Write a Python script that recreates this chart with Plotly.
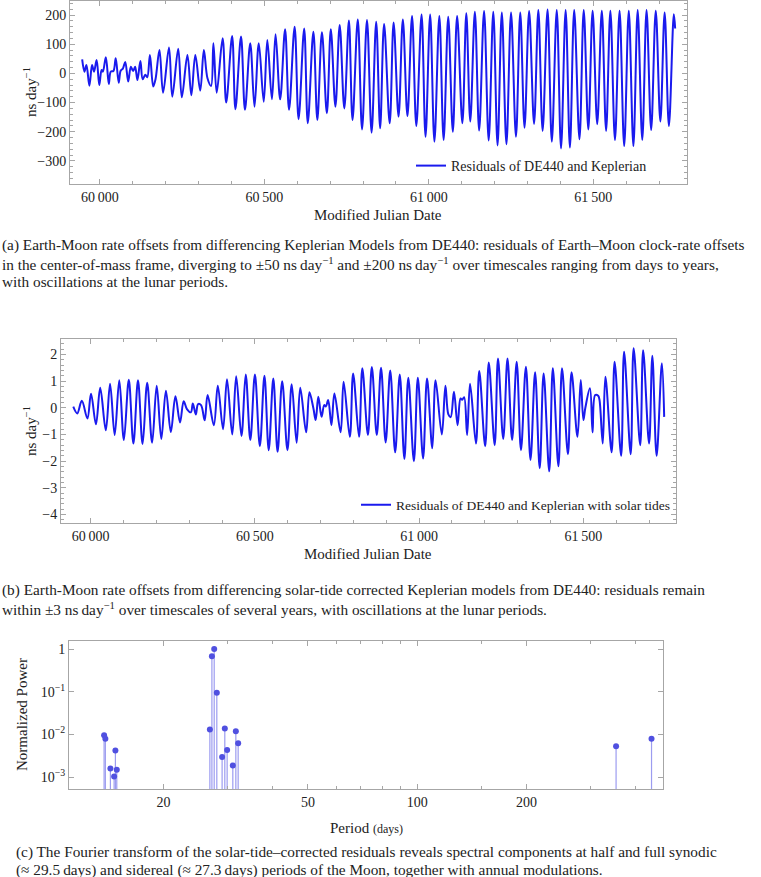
import plotly.graph_objects as go

W, H = 761, 877

# ---------------- Data ----------------
# Panel (a): residuals DE440 - Keplerian (extrema)
a_mjd = [59946, 59953, 59959, 59968, 59976, 59982, 59990, 59998, 60005, 60009, 60018, 60027,
         60033, 60041, 60048, 60057, 60063, 60070, 60077, 60086, 60094, 60101, 60107, 60114,
         60123, 60130, 60138, 60144, 60152, 60162, 60169, 60181, 60192, 60210, 60220, 60238,
         60249, 60266, 60278, 60290, 60305, 60316, 60327, 60338, 60345, 60355, 60373, 60384,
         60402, 60412, 60429, 60441, 60457, 60470, 60483, 60498, 60509, 60523, 60534, 60548,
         60563, 60575, 60592, 60604, 60621, 60632, 60649, 60661, 60675, 60690, 60702, 60716,
         60729, 60743, 60757, 60768, 60784, 60797, 60812, 60826, 60840, 60852, 60864, 60881,
         60893, 60908, 60921, 60935, 60949, 60962, 60978, 60990, 61004, 61017, 61032, 61045,
         61059, 61073, 61086, 61102, 61114, 61126, 61140, 61153, 61168, 61182, 61196, 61209,
         61222, 61236, 61250, 61265, 61278, 61291, 61305, 61320, 61333, 61346, 61361, 61374,
         61389, 61402, 61416, 61429, 61442, 61458, 61471, 61485, 61498, 61512, 61526, 61539,
         61552, 61566, 61580, 61594, 61608, 61622, 61635, 61649, 61662, 61676, 61690, 61704,
         61717, 61730, 61745, 61749]
a_val = [48, 6, 29, -42, 29, 6, 46, -40, 12, 6, 55, -36,
         6, 8, 52, -32, 9, 17, 39, -28, 23, 8, 23, -23,
         42, -20, -5, -13, 63, -45, -20, 80, -66, 89, -80, 84,
         -82, 63, -75, 63, -59, 80, -17, -43, 103, -66, 120, -100,
         128, -123, 126, -125, 103, -114, 103, -97, 114, -89, 134, -89,
         151, -125, 160, -157, 154, -171, 143, -160, 141, -137, 151, -114,
         166, -120, 181, -160, 185, -192, 183, -203, 177, -188, 169, -171,
         174, -148, 185, -146, 197, -180, 202, -217, 202, -234, 197, -228,
         194, -200, 197, -171, 206, -165, 211, -196, 214, -230, 211, -247,
         209, -243, 209, -217, 209, -186, 214, -173, 217, -197, 219, -234,
         217, -257, 217, -254, 217, -226, 217, -192, 215, -174, 215, -197,
         215, -228, 215, -249, 215, -249, 217, -228, 217, -194, 215, -165,
         209, -180, 203, 154]

# Panel (b): residuals with solar tides (extrema)
b_mjd = [59947, 59959, 59973, 59990, 60001, 60016, 60029, 60046, 60059, 60073, 60087, 60101,
         60116, 60130, 60144, 60158, 60172, 60187, 60201, 60215, 60229, 60244, 60258, 60272,
         60283, 60293, 60305, 60311, 60320, 60327, 60336, 60347, 60356, 60375, 60387, 60403,
         60415, 60431, 60443, 60459, 60472, 60486, 60500, 60515, 60529, 60542, 60556, 60569,
         60583, 60599, 60612, 60627, 60638, 60656, 60666, 60678, 60685, 60693, 60703, 60711,
         60716, 60723, 60733, 60742, 60761, 60770, 60789, 60799, 60817, 60827, 60844, 60856,
         60871, 60884, 60898, 60912, 60927, 60941, 60955, 60967, 60984, 60996, 61012, 61024,
         61040, 61050, 61069, 61080, 61089, 61096, 61106, 61117, 61126, 61131, 61137, 61146,
         61155, 61173, 61183, 61201, 61212, 61230, 61240, 61256, 61269, 61283, 61297, 61310,
         61325, 61339, 61353, 61367, 61379, 61396, 61407, 61424, 61435, 61453, 61464, 61482,
         61492, 61500, 61506, 61520, 61528, 61536, 61545, 61549, 61559, 61567, 61586, 61595,
         61615, 61624, 61644, 61653, 61673, 61682, 61700, 61710, 61723, 61739, 61746]
b_val = [0.04, -0.21, 0.26, -0.40, 0.53, -0.62, 0.75, -0.84, 0.90, -1.02, 1.03, -1.21,
         1.05, -1.34, 1.03, -1.36, 0.94, -1.31, 0.83, -1.17, 0.64, -0.91, 0.43, -0.55,
         0.25, -0.05, -0.17, 0.16, -0.25, 0.14, 0.10, -0.47, 0.48, -0.65, 0.83, -0.80,
         1.07, -1.00, 1.18, -1.06, 1.25, -1.21, 1.25, -1.44, 1.20, -1.59, 1.10, -1.65,
         1.00, -1.59, 0.88, -1.31, 0.75, -0.92, 0.58, -0.02, -0.46, 0.41, -0.34, 0.10,
         0.05, 0.29, -0.65, 0.54, -0.92, 0.98, -1.09, 1.29, -1.09, 1.48, -1.02, 1.53,
         -1.02, 1.50, -1.30, 1.40, -1.67, 1.25, -1.92, 1.13, -2.00, 1.13, -1.90, 1.10,
         -1.52, 1.03, -1.00, 0.83, -0.25, -0.35, 0.60, -0.65, 0.35, 0.30, 0.40, -1.02,
         0.90, -1.34, 1.38, -1.44, 1.70, -1.40, 1.85, -1.17, 1.85, -1.21, 1.73, -1.59,
         1.54, -1.96, 1.33, -2.27, 1.29, -2.38, 1.48, -2.19, 1.48, -1.74, 1.33, -1.09,
         1.04, -0.46, 0.00, 0.73, -0.92, 0.48, 0.45, 0.30, -1.34, 1.16, -1.67, 1.73,
         -1.80, 2.10, -1.74, 2.23, -1.40, 2.16, -1.34, 1.95, -1.80, 1.67, -0.34]

# Panel (c): normalized Fourier power vs period (days)
c_period = [13.73, 13.84, 14.29, 14.63, 14.75, 14.88,
            26.85, 27.2, 27.6, 28.06, 29.02, 29.52, 29.96, 31.06, 31.66, 32.13,
            353, 442]
c_power = [0.0096, 0.0079, 0.00158, 0.00103, 0.0042, 0.00148,
           0.0131, 0.68, 1.0, 0.095, 0.00294, 0.0138, 0.0043, 0.00186, 0.0119, 0.0062,
           0.0053, 0.0079]

a_ticks = [60000, 60500, 61000, 61500]
a_ticktext = ["60\u2009000", "60\u2009500", "61\u2009000", "61\u2009500"]
a_yticks = [-300, -200, -100, 0, 100, 200]
b_yticks = [-4, -3, -2, -1, 0, 1, 2]
c_xticks = [20, 50, 100, 200]
c_xminor = [30, 40, 60, 70, 80, 90, 150, 300, 400]
c_yticks = [0.001, 0.01, 0.1, 1]
c_yticktext = ["10<sup>\u22123</sup>", "10<sup>\u22122</sup>", "10<sup>\u22121</sup>", "1"]

# ---------------- Styling helpers ----------------
SERIF = "Liberation Serif, DejaVu Serif, serif"
FRAME = "#a6a6a6"
BLUE = "#1a1aee"


def xdom(l, r):
    return [l / W, r / W]


def ydom(top, bot):
    return [1 - bot / H, 1 - top / H]


def minus(v):
    s = f"{v:g}"
    return s.replace("-", "\u2212")


axis_common = dict(showline=True, linecolor=FRAME, linewidth=1, mirror="allticks",
                   ticks="inside", ticklen=5, tickcolor=FRAME, showgrid=False,
                   zeroline=False, tickfont=dict(family=SERIF, size=14, color="#222"))

fig = go.Figure()

# Panel (a)
fig.add_trace(go.Scatter(x=a_mjd, y=a_val, mode="lines",
                         line=dict(color=BLUE, width=2, shape="spline", smoothing=1.0),
                         name="Residuals of DE440 and Keplerian",
                         xaxis="x", yaxis="y", legend="legend"))
# Panel (b)
fig.add_trace(go.Scatter(x=b_mjd, y=b_val, mode="lines",
                         line=dict(color=BLUE, width=2, shape="spline", smoothing=1.0),
                         name="Residuals of DE440 and Keplerian with solar tides",
                         xaxis="x2", yaxis="y2", legend="legend2"))

# Panel (c) stems
c_yrange = [-3.28, 0.19]
base = 10 ** c_yrange[0]
sx, sy = [], []
for p, v in zip(c_period, c_power):
    sx += [p, p, None]
    sy += [base, v, None]
fig.add_trace(go.Scatter(x=sx, y=sy, mode="lines", line=dict(color="#9c9cf0", width=1.2),
                         showlegend=False, xaxis="x3", yaxis="y3", hoverinfo="skip"))
fig.add_trace(go.Scatter(x=c_period, y=c_power, mode="markers",
                         marker=dict(color="#5050e0", size=6),
                         showlegend=False, xaxis="x3", yaxis="y3"))

fig.update_layout(
    width=W, height=H, margin=dict(l=0, r=0, t=0, b=0),
    paper_bgcolor="white", plot_bgcolor="white",
    font=dict(family=SERIF, color="#222"),
    xaxis=dict(axis_common, domain=xdom(70, 687), range=[59909, 61785], anchor="y",
               tickvals=a_ticks, ticktext=a_ticktext,
               minor=dict(ticks="inside", dtick=100, tick0=60000, ticklen=3, tickcolor=FRAME)),
    yaxis=dict(axis_common, domain=ydom(1, 184), range=[-379, 248], anchor="x",
               tickvals=a_yticks, ticktext=[minus(v) for v in a_yticks],
               minor=dict(ticks="inside", dtick=20, tick0=0, ticklen=3, tickcolor=FRAME)),
    xaxis2=dict(axis_common, domain=xdom(61, 676), range=[59909.6, 61782], anchor="y2",
                tickvals=a_ticks, ticktext=a_ticktext,
                minor=dict(ticks="inside", dtick=100, tick0=60000, ticklen=3, tickcolor=FRAME)),
    yaxis2=dict(axis_common, domain=ydom(339, 523), range=[-4.32, 2.58], anchor="x2",
                tickvals=b_yticks, ticktext=[minus(v) for v in b_yticks],
                minor=dict(ticks="inside", dtick=0.2, tick0=0, ticklen=3, tickcolor=FRAME)),
    xaxis3=dict(axis_common, domain=xdom(69, 663), type="log", range=[1.041, 2.677],
                anchor="y3", tickvals=c_xticks, ticktext=[str(v) for v in c_xticks],
                minor=dict(ticks="inside", tickvals=c_xminor, ticklen=3, tickcolor=FRAME)),
    yaxis3=dict(axis_common, domain=ydom(641, 789), type="log", range=c_yrange,
                anchor="x3", tickvals=c_yticks, ticktext=c_yticktext),
    legend=dict(x=652 / W, y=1 - 166 / H, xanchor="right", yanchor="middle",
                bgcolor="rgba(0,0,0,0)", font=dict(family=SERIF, size=14, color="#222"),
                itemwidth=30),
    legend2=dict(x=676 / W, y=1 - 505 / H, xanchor="right", yanchor="middle",
                 bgcolor="rgba(0,0,0,0)", font=dict(family=SERIF, size=13.5, color="#222"),
                 itemwidth=30),
)

ann = []


def text(x, y, s, size=14, xanchor="center", angle=0):
    ann.append(dict(x=x / W, y=1 - y / H, xref="paper", yref="paper", text=s,
                    showarrow=False, xanchor=xanchor, yanchor="middle", textangle=angle,
                    font=dict(family=SERIF, size=size, color="#222")))


# axis titles
text(378, 215, "Modified Julian Date", 15)
text(30, 92, "ns day<sup>\u22121</sup>", 15, angle=-90)
text(368, 554, "Modified Julian Date", 15)
text(30, 431, "ns day<sup>\u22121</sup>", 15, angle=-90)
text(366, 828, "Period <span style='font-size:12px'>(days)</span>", 15)
text(22, 715, "Normalized Power", 15, angle=-90)

cap_a = ["(a) Earth-Moon rate offsets from differencing Keplerian Models from DE440: residuals of Earth\u2013Moon clock-rate offsets",
         "in the center-of-mass frame, diverging to \u00b150 ns\u2009day<sup>\u22121</sup> and \u00b1200 ns\u2009day<sup>\u22121</sup> over timescales ranging from days to years,",
         "with oscillations at the lunar periods."]
cap_b = ["(b) Earth-Moon rate offsets from differencing solar-tide corrected Keplerian models from DE440: residuals remain",
         "within \u00b13 ns\u2009day<sup>\u22121</sup> over timescales of several years, with oscillations at the lunar periods."]
cap_c = ["(c) The Fourier transform of the solar-tide\u2013corrected residuals reveals spectral components at half and full synodic",
         "(\u2248 29.5\u2009days) and sidereal (\u2248 27.3\u2009days) periods of the Moon, together with annual modulations."]
for i, s in enumerate(cap_a):
    text(0, 245 + 18 * i, s, 15.3, xanchor="left")
for i, s in enumerate(cap_b):
    text(0, 590 + 18 * i, s, 15.3, xanchor="left")
for i, s in enumerate(cap_c):
    text(14, 852 + 18 * i, s, 15.3, xanchor="left")

fig.update_layout(annotations=ann)
fig.write_html("out.html", config={"displayModeBar": False},
               post_script="document.body.style.margin='0';document.body.style.overflow='hidden';")
